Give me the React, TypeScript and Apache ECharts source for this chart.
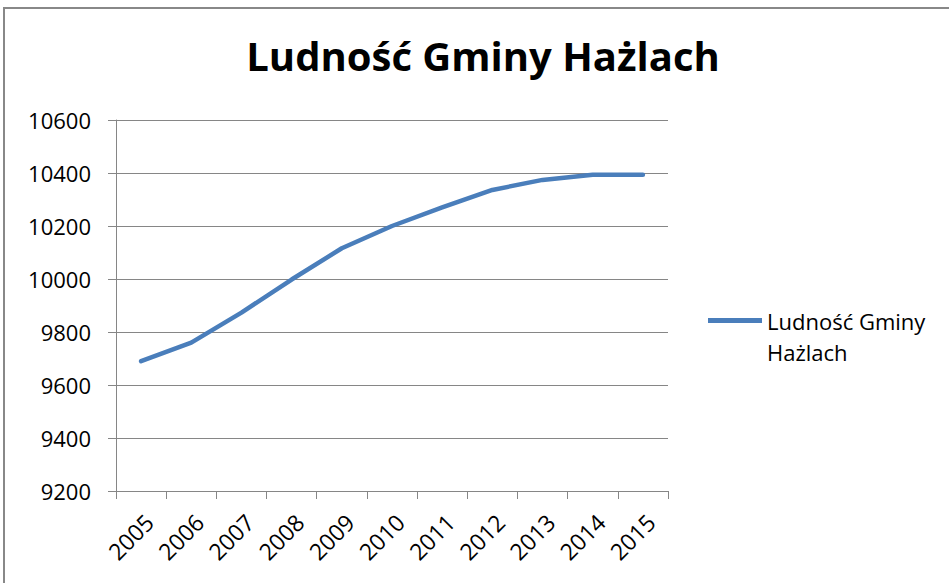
import React, { useEffect, useRef } from "react";
import * as echarts from "echarts";

const years = ["2005", "2006", "2007", "2008", "2009", "2010", "2011", "2012", "2013", "2014", "2015"];
const population = [9690, 9760, 9873, 9998, 10116, 10200, 10270, 10336, 10374, 10393, 10393];
const seriesName = "Ludność Gminy Hażlach";
const titleText = "Ludność Gminy Hażlach";
const legendLines = ["Ludność Gminy", "Hażlach"];
const yMin = 9200;
const yMax = 10600;
const yStep = 200;

export default function App() {
  const ref = useRef<HTMLDivElement>(null);
  useEffect(() => {
    document.body.style.margin = "0";
    if (!ref.current) return;
    const chart = echarts.init(ref.current, null, { renderer: "svg" });
    const font = "'Open Sans', 'Noto Sans', sans-serif";
    chart.setOption({
      animation: false,
      backgroundColor: "#ffffff",
      textStyle: { fontFamily: font },
      graphic: [
        {
          type: "rect",
          shape: { x: 4, y: 8, width: 1000, height: 700 },
          style: { fill: "none", stroke: "#888888", lineWidth: 2 },
          silent: true,
          z: -10,
        },
      ],
      title: {
        text: titleText,
        left: 478,
        top: 30,
        textAlign: "center",
        textStyle: { fontFamily: font, fontWeight: "bold", fontSize: 40, color: "#000000" },
      },
      legend: {
        orient: "vertical",
        left: 708,
        top: 274,
        padding: 0,
        itemWidth: 54,
        itemHeight: 5,
        formatter: () => "\n" + legendLines.join("\n"),
        textStyle: {
          fontFamily: font,
          fontSize: 22,
          color: "#000000",
          lineHeight: 31,
        },
        data: [{ name: seriesName, icon: "path://M0,0L54,0L54,5L0,5Z" }],
      },
      grid: { left: 116, top: 120, right: 281, bottom: 92, containLabel: false },
      xAxis: {
        type: "category",
        data: years,
        boundaryGap: true,
        axisLine: { show: true, lineStyle: { color: "#868686", width: 1 } },
        axisTick: { show: true, length: 8, lineStyle: { color: "#868686" } },
        axisLabel: {
          interval: 0,
          rotate: 45,
          fontSize: 23,
          color: "#000000",
          fontFamily: font,
          margin: 19,
          verticalAlign: "top",
        },
        splitLine: { show: false },
      },
      yAxis: {
        type: "value",
        min: yMin,
        max: yMax,
        interval: yStep,
        axisLine: { show: true, lineStyle: { color: "#868686", width: 1 } },
        axisTick: { show: true, length: 8, lineStyle: { color: "#868686" } },
        axisLabel: {
          fontSize: 22,
          color: "#000000",
          fontFamily: font,
          margin: 25,
          formatter: (v: number) => String(v),
        },
        splitLine: { show: true, lineStyle: { color: "#868686", width: 1 } },
      },
      series: [
        {
          name: seriesName,
          type: "line",
          data: population,
          symbol: "none",
          smooth: false,
          lineStyle: { color: "#4a7ebb", width: 4.5, cap: "round", join: "round" },
          itemStyle: { color: "#4a7ebb" },
        },
      ],
    });
    return () => chart.dispose();
  }, []);
  return <div ref={ref} style={{ width: 949, height: 583 }} />;
}
